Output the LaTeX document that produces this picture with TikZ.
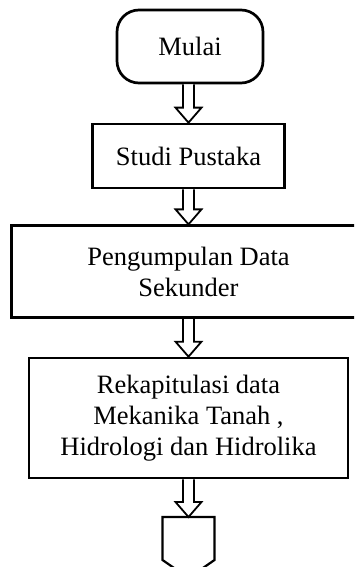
\documentclass[tikz,border=0pt]{standalone}
\usepackage{fontspec}
\setmainfont{Liberation Serif}
\usetikzlibrary{calc}
\tikzset{
  box/.style={draw, line width=2.7pt, align=center, inner sep=0pt,
    font=\fontsize{26.5}{31}\selectfont},
  term/.style={box, rounded corners=22pt},
  flowarrow/.style={draw, line width=1.8pt, fill=white, line join=miter},
}
\newcommand{\blockarrow}[2]{%
  \draw[flowarrow] ($(#1.south -| #2.north)+(-5.5,0)$) -- ($(#2.north)+(-5.5,-15)$)
    -- ($(#2.north)+(-13,-15)$) -- (#2.north) -- ($(#2.north)+(13,-15)$)
    -- ($(#2.north)+(5.5,-15)$) -- ($(#1.south -| #2.north)+(5.5,0)$);}
\begin{document}
\begin{tikzpicture}[x=1pt,y=-1pt]
\useasboundingbox (0,0) rectangle (354,567);
\clip (0,0) rectangle (354,567);
\node[term, minimum width=146pt, minimum height=73pt] (mulai) at (190,46.5) {Mulai};
\node[box, minimum width=192pt, minimum height=64pt] (studi) at (188.5,156) {Studi Pustaka};
\node[box, minimum width=354pt, minimum height=92pt] (kumpul) at (188.5,271.7) {Pengumpulan Data\\Sekunder};
\node[box, minimum width=319pt, minimum height=120pt] (rekap) at (188.5,418) {Rekapitulasi data\\Mekanika Tanah ,\\Hidrologi dan Hidrolika};
\node[minimum width=52pt, minimum height=43pt, inner sep=0pt, outer sep=0pt] (lanjut) at (188.5,538.5) {};
\draw[line width=2.2pt, line join=miter] (lanjut.south west) -- (lanjut.north west) -- (lanjut.north east)
  -- (lanjut.south east) -- ($(lanjut.south)+(0,18)$) -- cycle;
\blockarrow{mulai}{studi}
\blockarrow{studi}{kumpul}
\blockarrow{kumpul}{rekap}
\blockarrow{rekap}{lanjut}
\end{tikzpicture}
\end{document}
